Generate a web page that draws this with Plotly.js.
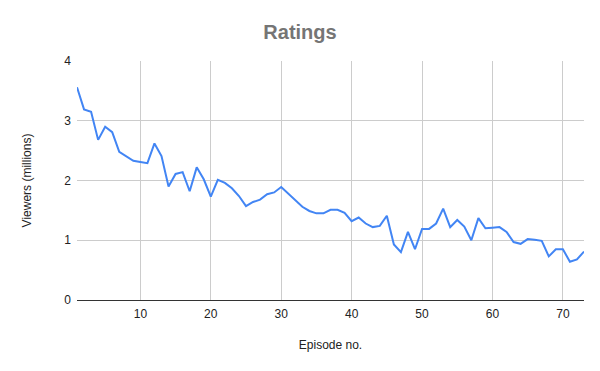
<!DOCTYPE html>
<html>
<head>
<meta charset="utf-8">
<script src="https://cdn.plot.ly/plotly-3.0.1.min.js"></script>
<style>html,body{margin:0;padding:0;background:#fff;}#chart{width:600px;height:371px;}</style>
</head>
<body>
<div id="chart"></div>
<script>
var episodes = [];
for (var i = 1; i <= 73; i++) episodes.push(i);
var viewers = [
  3.56, 3.19, 3.15, 2.68, 2.90, 2.81, 2.48, 2.41, 2.33, 2.31,
  2.29, 2.62, 2.41, 1.90, 2.11, 2.14, 1.82, 2.22, 2.02, 1.73,
  2.01, 1.96, 1.87, 1.74, 1.57, 1.64, 1.68, 1.77, 1.80, 1.89,
  1.78, 1.67, 1.56, 1.49, 1.45, 1.45, 1.51, 1.51, 1.46, 1.32,
  1.38, 1.28, 1.22, 1.24, 1.41, 0.93, 0.80, 1.14, 0.85, 1.19,
  1.19, 1.28, 1.53, 1.22, 1.34, 1.23, 1.00, 1.37, 1.20, 1.21,
  1.22, 1.14, 0.97, 0.94, 1.02, 1.01, 0.99, 0.73, 0.85, 0.85,
  0.64, 0.68, 0.81
];
var xTicks = [10, 20, 30, 40, 50, 60, 70];
var yTicks = [0, 1, 2, 3, 4];

var trace = {
  x: episodes, y: viewers, type: 'scatter', mode: 'lines',
  line: {color: '#4285F4', width: 2}, hoverinfo: 'x+y'
};
var layout = {
  width: 600, height: 371,
  margin: {l: 77, r: 16, t: 61, b: 71},
  paper_bgcolor: '#fff', plot_bgcolor: '#fff',
  font: {family: 'Liberation Sans, Arial, sans-serif', size: 12, color: '#222'},
  title: {text: '<b>Ratings</b>', x: 0.5, xanchor: 'center', y: 0.915, yanchor: 'middle',
          font: {size: 20, color: '#757575', family: 'Liberation Sans, Arial, sans-serif'}},
  showlegend: false,
  xaxis: {
    range: [1, 73], tickvals: xTicks, ticktext: xTicks.map(String),
    showgrid: true, gridcolor: '#cccccc', gridwidth: 1,
    zeroline: false, showline: false, ticks: '', ticklen: 0,
    ticklabelstandoff: 5,
    tickfont: {size: 12, color: '#222'},
    title: {text: 'Episode no.', font: {size: 12, color: '#222'}, standoff: 20}
  },
  yaxis: {
    range: [0, 4], tickvals: yTicks, ticktext: yTicks.map(String),
    showgrid: true, gridcolor: '#cccccc', gridwidth: 1,
    zeroline: true, zerolinecolor: '#333333', zerolinewidth: 1,
    showline: false, ticks: '', ticklen: 0,
    ticklabelstandoff: 5,
    tickfont: {size: 12, color: '#222'},
    title: {text: 'Viewers (millions)', font: {size: 12, color: '#222'}, standoff: 30}
  }
};
Plotly.newPlot('chart', [trace], layout, {displayModeBar: false, staticPlot: true});
</script>
</body>
</html>
